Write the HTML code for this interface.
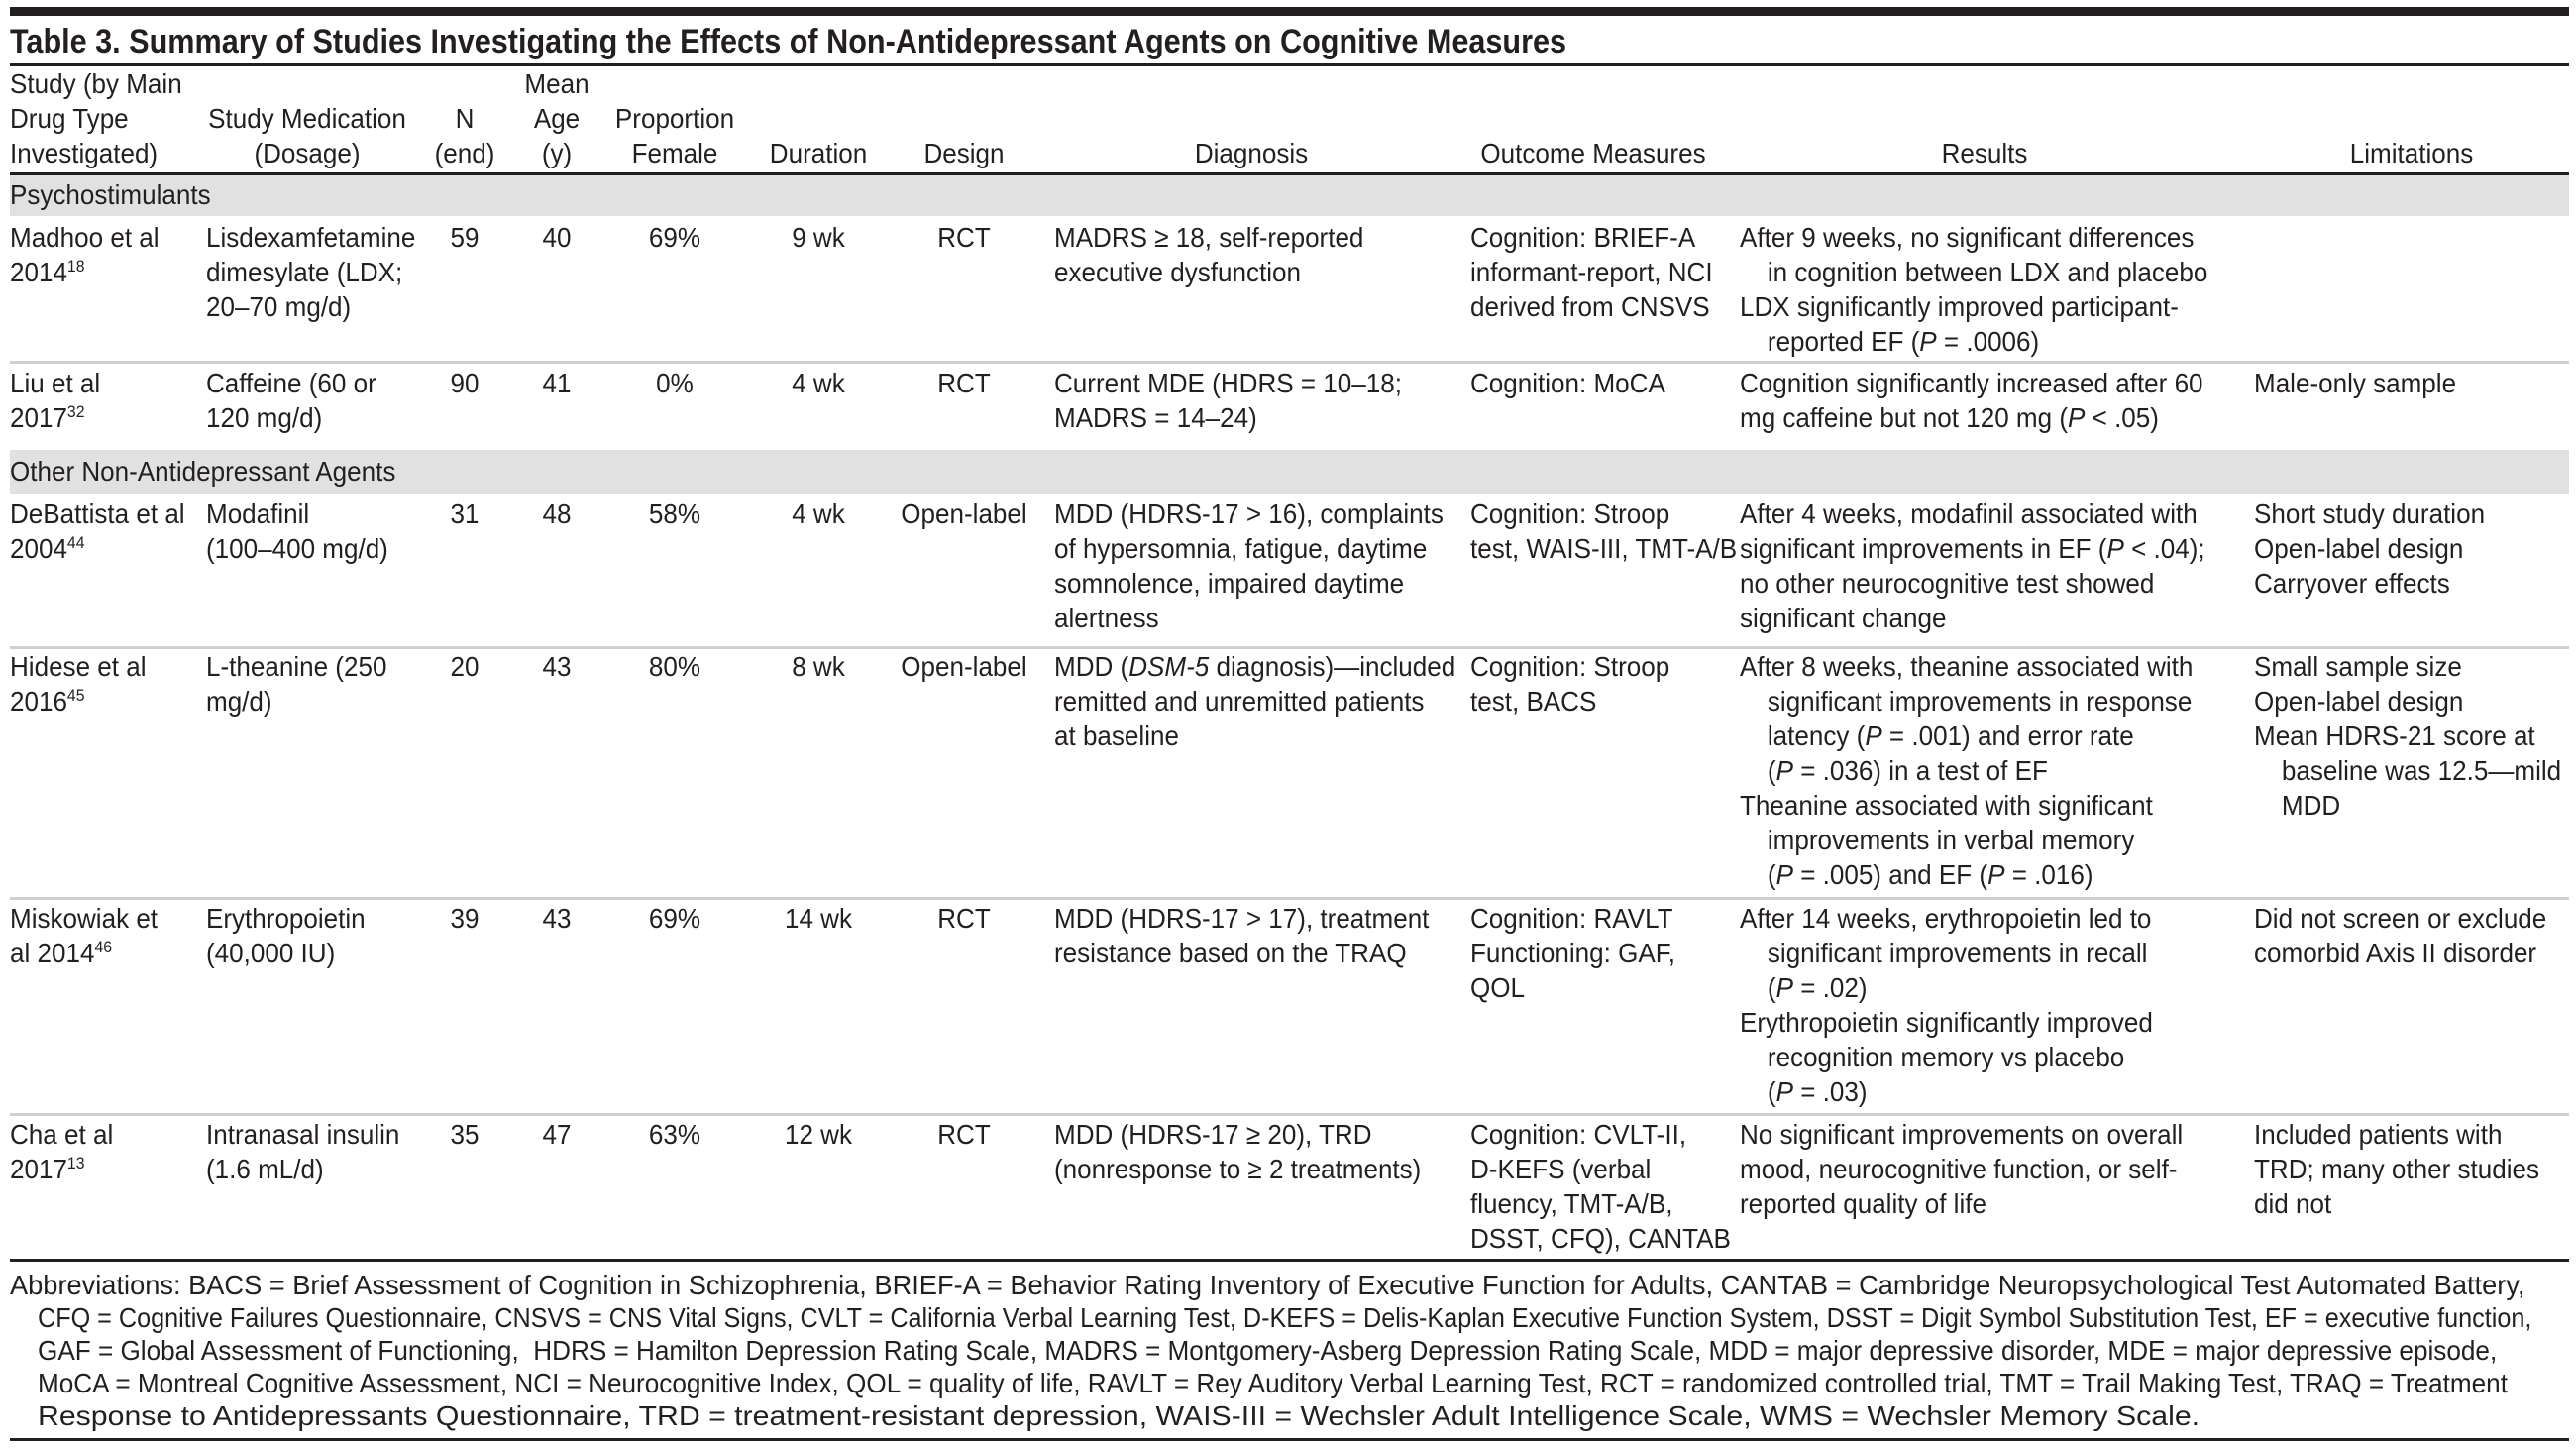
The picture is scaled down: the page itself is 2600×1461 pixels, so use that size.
<!DOCTYPE html>
<html><head><meta charset="utf-8"><style>
html,body{margin:0;padding:0;background:#fff}
body{width:2600px;height:1461px;position:relative;overflow:hidden;font-family:"Liberation Sans Narrow","Liberation Sans",sans-serif;font-size:28px;color:#231f20;line-height:35px}
.a{position:absolute;white-space:nowrap;transform:scaleX(.93);transform-origin:0 0}
.c{text-align:center;transform-origin:50% 0}
.h{padding-left:30px;text-indent:-30px}
.r{position:absolute;left:10px;width:2583px}
.f{position:absolute;white-space:nowrap;transform-origin:0 0;font-size:27.5px;line-height:33px}
sup{font-size:17px;line-height:0;vertical-align:10px}
i{font-style:italic}
</style></head><body>
<div class="r" style="top:7px;height:9px;background:#231f20"></div>
<div class="a" style="left:10px;top:24px;font-weight:bold;font-size:34px;line-height:36px;transform:scaleX(.90)">Table 3. Summary of Studies Investigating the Effects of Non-Antidepressant Agents on Cognitive Measures</div>
<div class="r" style="top:64px;height:3px;background:#231f20"></div>
<!-- header -->
<div class="a" style="left:10px;top:67px">Study (by Main<br>Drug Type<br>Investigated)</div>
<div class="a c" style="left:180px;width:260px;top:102px">Study Medication<br>(Dosage)</div>
<div class="a c" style="left:419px;width:100px;top:102px">N<br>(end)</div>
<div class="a c" style="left:512px;width:100px;top:67px">Mean<br>Age<br>(y)</div>
<div class="a c" style="left:581px;width:200px;top:102px">Proportion<br>Female</div>
<div class="a c" style="left:746px;width:160px;top:137px">Duration</div>
<div class="a c" style="left:893px;width:160px;top:137px">Design</div>
<div class="a c" style="left:1113px;width:300px;top:137px">Diagnosis</div>
<div class="a c" style="left:1458px;width:300px;top:137px">Outcome Measures</div>
<div class="a c" style="left:1853px;width:300px;top:137px">Results</div>
<div class="a c" style="left:2284px;width:300px;top:137px">Limitations</div>
<div class="r" style="top:174px;height:3px;background:#231f20"></div>
<!-- band 1 -->
<div class="r" style="top:177px;height:41px;background:#e1e1e1"></div>
<div class="a" style="left:10px;top:179px">Psychostimulants</div>
<!-- Madhoo -->
<div class="a" style="left:10px;top:222px">Madhoo et al<br>2014<sup>18</sup></div>
<div class="a" style="left:208px;top:222px">Lisdexamfetamine<br>dimesylate (LDX;<br>20–70 mg/d)</div>
<div class="a c" style="left:419px;width:100px;top:222px">59</div>
<div class="a c" style="left:512px;width:100px;top:222px">40</div>
<div class="a c" style="left:581px;width:200px;top:222px">69%</div>
<div class="a c" style="left:746px;width:160px;top:222px">9 wk</div>
<div class="a c" style="left:893px;width:160px;top:222px">RCT</div>
<div class="a" style="left:1064px;top:222px">MADRS ≥ 18, self-reported<br>executive dysfunction</div>
<div class="a" style="left:1484px;top:222px">Cognition: BRIEF-A<br>informant-report, NCI<br>derived from CNSVS</div>
<div class="a" style="left:1756px;top:222px"><div class="h">After 9 weeks, no significant differences<br>in cognition between LDX and placebo</div><div class="h">LDX significantly improved participant-<br>reported EF (<i>P</i> = .0006)</div></div>
<div class="r" style="top:364px;height:3px;background:#cfcfcf"></div>
<!-- Liu -->
<div class="a" style="left:10px;top:369px">Liu et al<br>2017<sup>32</sup></div>
<div class="a" style="left:208px;top:369px">Caffeine (60 or<br>120 mg/d)</div>
<div class="a c" style="left:419px;width:100px;top:369px">90</div>
<div class="a c" style="left:512px;width:100px;top:369px">41</div>
<div class="a c" style="left:581px;width:200px;top:369px">0%</div>
<div class="a c" style="left:746px;width:160px;top:369px">4 wk</div>
<div class="a c" style="left:893px;width:160px;top:369px">RCT</div>
<div class="a" style="left:1064px;top:369px">Current MDE (HDRS = 10–18;<br>MADRS = 14–24)</div>
<div class="a" style="left:1484px;top:369px">Cognition: MoCA</div>
<div class="a" style="left:1756px;top:369px">Cognition significantly increased after 60<br>mg caffeine but not 120 mg (<i>P</i> &lt; .05)</div>
<div class="a" style="left:2275px;top:369px">Male-only sample</div>
<!-- band 2 -->
<div class="r" style="top:454px;height:44px;background:#e1e1e1"></div>
<div class="a" style="left:10px;top:458px">Other Non-Antidepressant Agents</div>
<!-- DeBattista -->
<div class="a" style="left:10px;top:501px">DeBattista et al<br>2004<sup>44</sup></div>
<div class="a" style="left:208px;top:501px">Modafinil<br>(100–400 mg/d)</div>
<div class="a c" style="left:419px;width:100px;top:501px">31</div>
<div class="a c" style="left:512px;width:100px;top:501px">48</div>
<div class="a c" style="left:581px;width:200px;top:501px">58%</div>
<div class="a c" style="left:746px;width:160px;top:501px">4 wk</div>
<div class="a c" style="left:893px;width:160px;top:501px">Open-label</div>
<div class="a" style="left:1064px;top:501px">MDD (HDRS-17 &gt; 16), complaints<br>of hypersomnia, fatigue, daytime<br>somnolence, impaired daytime<br>alertness</div>
<div class="a" style="left:1484px;top:501px">Cognition: Stroop<br>test, WAIS-III, TMT-A/B</div>
<div class="a" style="left:1756px;top:501px">After 4 weeks, modafinil associated with<br>significant improvements in EF (<i>P</i> &lt; .04);<br>no other neurocognitive test showed<br>significant change</div>
<div class="a" style="left:2275px;top:501px">Short study duration<br>Open-label design<br>Carryover effects</div>
<div class="r" style="top:652px;height:3px;background:#cfcfcf"></div>
<!-- Hidese -->
<div class="a" style="left:10px;top:655px">Hidese et al<br>2016<sup>45</sup></div>
<div class="a" style="left:208px;top:655px">L-theanine (250<br>mg/d)</div>
<div class="a c" style="left:419px;width:100px;top:655px">20</div>
<div class="a c" style="left:512px;width:100px;top:655px">43</div>
<div class="a c" style="left:581px;width:200px;top:655px">80%</div>
<div class="a c" style="left:746px;width:160px;top:655px">8 wk</div>
<div class="a c" style="left:893px;width:160px;top:655px">Open-label</div>
<div class="a" style="left:1064px;top:655px">MDD (<i>DSM-5</i> diagnosis)—included<br>remitted and unremitted patients<br>at baseline</div>
<div class="a" style="left:1484px;top:655px">Cognition: Stroop<br>test, BACS</div>
<div class="a" style="left:1756px;top:655px"><div class="h">After 8 weeks, theanine associated with<br>significant improvements in response<br>latency (<i>P</i> = .001) and error rate<br>(<i>P</i> = .036) in a test of EF</div><div class="h">Theanine associated with significant<br>improvements in verbal memory<br>(<i>P</i> = .005) and EF (<i>P</i> = .016)</div></div>
<div class="a" style="left:2275px;top:655px"><div class="h">Small sample size</div><div class="h">Open-label design</div><div class="h">Mean HDRS-21 score at<br>baseline was 12.5—mild<br>MDD</div></div>
<div class="r" style="top:905px;height:3px;background:#cfcfcf"></div>
<!-- Miskowiak -->
<div class="a" style="left:10px;top:909px">Miskowiak et<br>al 2014<sup>46</sup></div>
<div class="a" style="left:208px;top:909px">Erythropoietin<br>(40,000 IU)</div>
<div class="a c" style="left:419px;width:100px;top:909px">39</div>
<div class="a c" style="left:512px;width:100px;top:909px">43</div>
<div class="a c" style="left:581px;width:200px;top:909px">69%</div>
<div class="a c" style="left:746px;width:160px;top:909px">14 wk</div>
<div class="a c" style="left:893px;width:160px;top:909px">RCT</div>
<div class="a" style="left:1064px;top:909px">MDD (HDRS-17 &gt; 17), treatment<br>resistance based on the TRAQ</div>
<div class="a" style="left:1484px;top:909px">Cognition: RAVLT<br>Functioning: GAF,<br>QOL</div>
<div class="a" style="left:1756px;top:909px"><div class="h">After 14 weeks, erythropoietin led to<br>significant improvements in recall<br>(<i>P</i> = .02)</div><div class="h">Erythropoietin significantly improved<br>recognition memory vs placebo<br>(<i>P</i> = .03)</div></div>
<div class="a" style="left:2275px;top:909px">Did not screen or exclude<br>comorbid Axis II disorder</div>
<div class="r" style="top:1123px;height:3px;background:#cfcfcf"></div>
<!-- Cha -->
<div class="a" style="left:10px;top:1127px">Cha et al<br>2017<sup>13</sup></div>
<div class="a" style="left:208px;top:1127px">Intranasal insulin<br>(1.6 mL/d)</div>
<div class="a c" style="left:419px;width:100px;top:1127px">35</div>
<div class="a c" style="left:512px;width:100px;top:1127px">47</div>
<div class="a c" style="left:581px;width:200px;top:1127px">63%</div>
<div class="a c" style="left:746px;width:160px;top:1127px">12 wk</div>
<div class="a c" style="left:893px;width:160px;top:1127px">RCT</div>
<div class="a" style="left:1064px;top:1127px">MDD (HDRS-17 ≥ 20), TRD<br>(nonresponse to ≥ 2 treatments)</div>
<div class="a" style="left:1484px;top:1127px">Cognition: CVLT-II,<br>D-KEFS (verbal<br>fluency, TMT-A/B,<br>DSST, CFQ), CANTAB</div>
<div class="a" style="left:1756px;top:1127px">No significant improvements on overall<br>mood, neurocognitive function, or self-<br>reported quality of life</div>
<div class="a" style="left:2275px;top:1127px">Included patients with<br>TRD; many other studies<br>did not</div>
<div class="r" style="top:1270px;height:3px;background:#231f20"></div>
<!-- footnote -->
<div class="f" style="left:10px;top:1280px;transform:scaleX(.99)">Abbreviations: BACS = Brief Assessment of Cognition in Schizophrenia, BRIEF-A = Behavior Rating Inventory of Executive Function for Adults, CANTAB = Cambridge Neuropsychological Test Automated Battery,</div>
<div class="f" style="left:38px;top:1313px;transform:scaleX(.916)">CFQ = Cognitive Failures Questionnaire, CNSVS = CNS Vital Signs, CVLT = California Verbal Learning Test, D-KEFS = Delis-Kaplan Executive Function System, DSST = Digit Symbol Substitution Test, EF = executive function,</div>
<div class="f" style="left:38px;top:1346px;transform:scaleX(.95)">GAF = Global Assessment of Functioning,&nbsp; HDRS = Hamilton Depression Rating Scale, MADRS = Montgomery-Asberg Depression Rating Scale, MDD = major depressive disorder, MDE = major depressive episode,</div>
<div class="f" style="left:38px;top:1379px;transform:scaleX(.95)">MoCA = Montreal Cognitive Assessment, NCI = Neurocognitive Index, QOL = quality of life, RAVLT = Rey Auditory Verbal Learning Test, RCT = randomized controlled trial, TMT = Trail Making Test, TRAQ = Treatment</div>
<div class="f" style="left:38px;top:1412px;transform:scaleX(1.1)">Response to Antidepressants Questionnaire, TRD = treatment-resistant depression, WAIS-III = Wechsler Adult Intelligence Scale, WMS = Wechsler Memory Scale.</div>
<div class="r" style="top:1451px;height:3px;background:#231f20"></div>
</body></html>
